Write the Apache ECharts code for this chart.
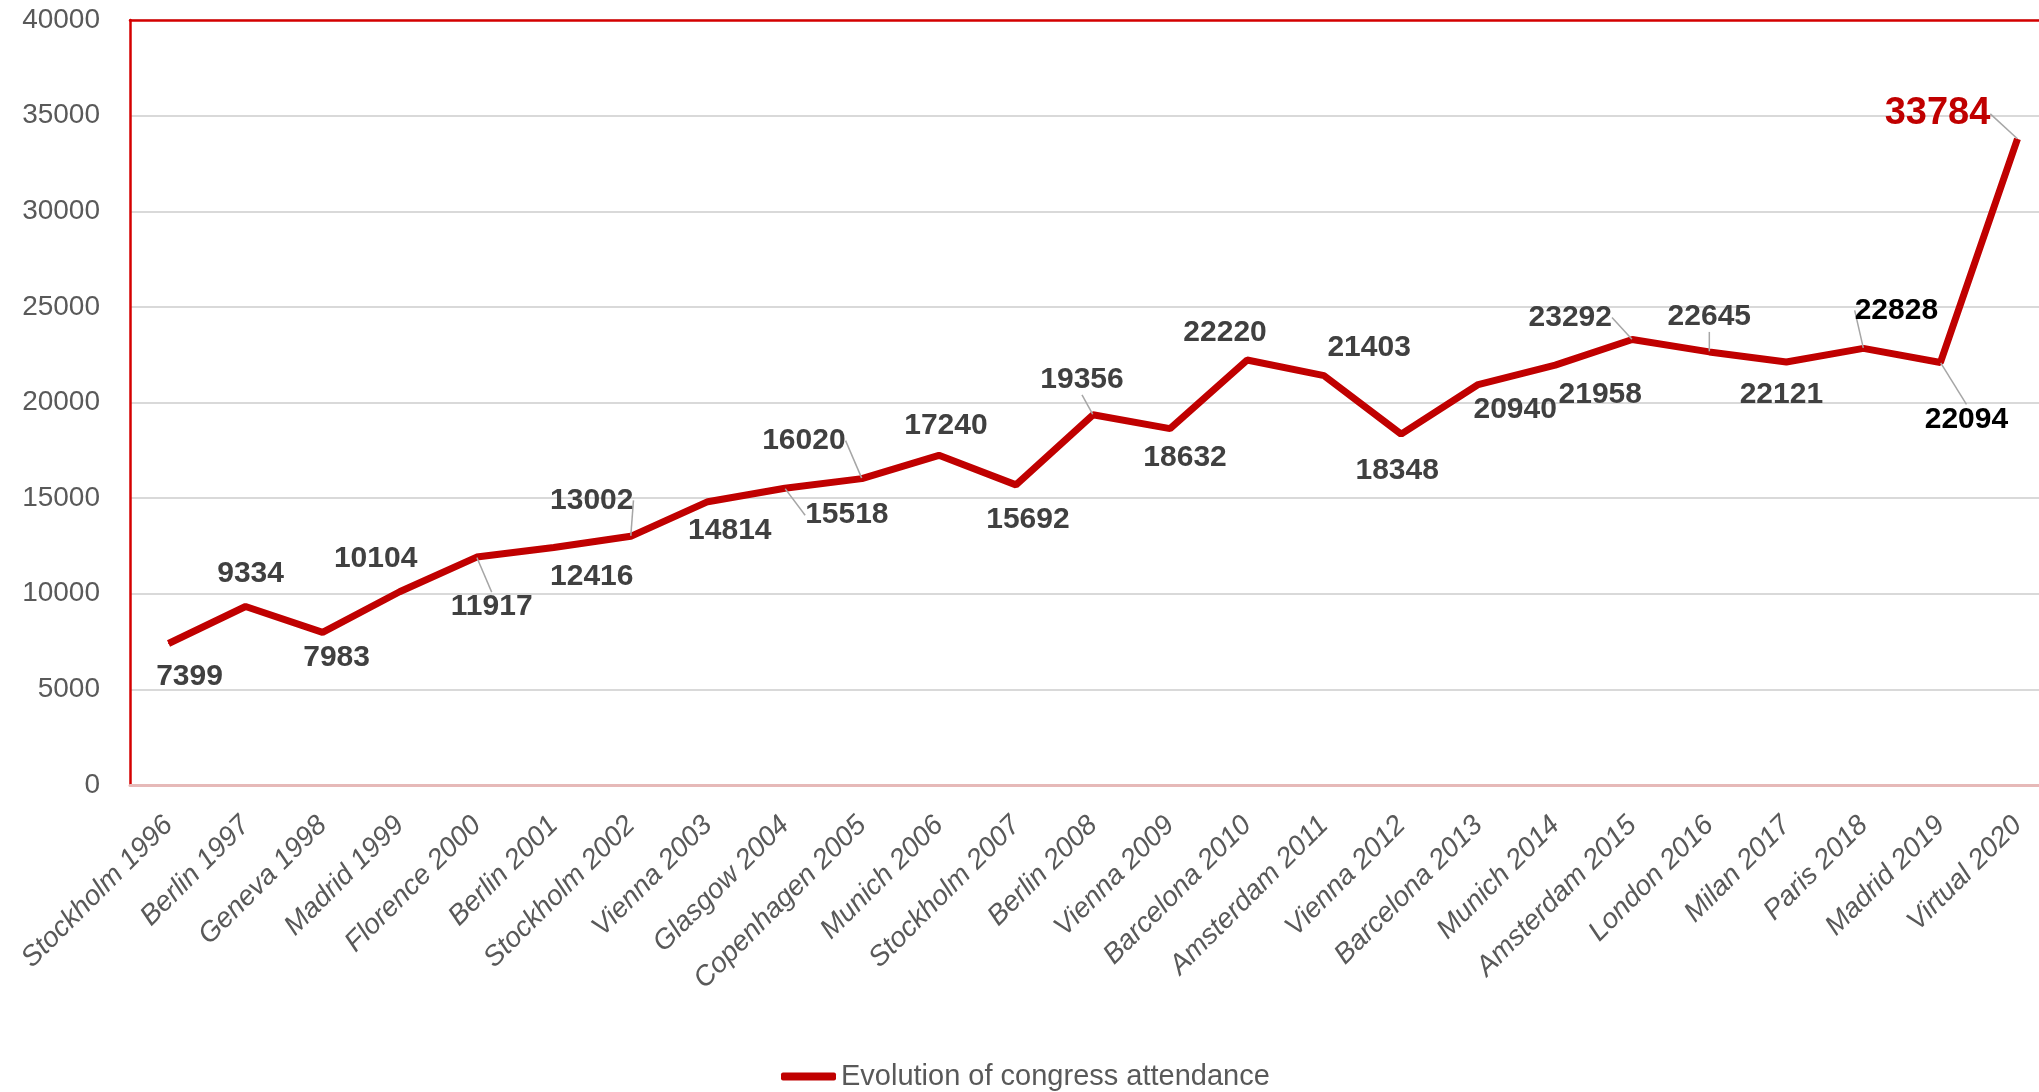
<!DOCTYPE html>
<html>
<head>
<meta charset="utf-8">
<script src="https://cdn.jsdelivr.net/npm/echarts@6/dist/echarts.min.js"></script>
<style>
html,body{margin:0;padding:0;background:#fff;overflow:hidden;width:2039px;height:1092px;}
#chart{width:2056px;height:1092px;}
</style>
</head>
<body>
<div id="chart"></div>
<script>
// ---- data ----
const categories = ["Stockholm 1996","Berlin 1997","Geneva 1998","Madrid 1999","Florence 2000","Berlin 2001","Stockholm 2002","Vienna 2003","Glasgow 2004","Copenhagen 2005","Munich 2006","Stockholm 2007","Berlin 2008","Vienna 2009","Barcelona 2010","Amsterdam 2011","Vienna 2012","Barcelona 2013","Munich 2014","Amsterdam 2015","London 2016","Milan 2017","Paris 2018","Madrid 2019","Virtual 2020"];
const attendance = [7399,9334,7983,10104,11917,12416,13002,14814,15518,16020,17240,15692,19356,18632,22220,21403,18348,20940,21958,23292,22645,22121,22828,22094,33784];
const yTicks = {min:0, max:40000, interval:5000};
const seriesName = "Evolution of congress attendance";

// ---- label layout (offsets of label centres from their points) ----
const labelDx = [21,5,14,-24,15,38,-39,22,62,-58,7,12,-11,15,-22,45,-4,37,45,-62,0,-5,33,26,-80];
const labelDy = [33,-33,25,-33,50,29,-36,29,27,-38,-30,35,-35,29,-27,-28,37,25,30,-22,-35,33,-38,57,-25];
const leaderIdx = [4,6,8,9,12,19,20,22,23,24];
const blackIdx = [22,23];
const highlightIdx = [24];

const FONT = "'Liberation Sans',Arial,sans-serif";

const seriesData = attendance.map((v,i)=>{
  const item = {value:v};
  if (leaderIdx.includes(i)) item.labelLine = {show:true};
  if (blackIdx.includes(i)) item.label = {color:'#000000'};
  if (highlightIdx.includes(i)) item.label = {color:'#C00000', fontSize:38};
  return item;
});

const chart = echarts.init(document.getElementById('chart'), null, {renderer:'canvas'});
chart.setOption({
  animation:false,
  backgroundColor:'#ffffff',
  grid:{left:130, top:20, right:0, bottom:307, containLabel:false},
  legend:{
    top:1057, left:776,
    icon:'roundRect', itemWidth:55, itemHeight:8, itemGap:6,
    textStyle:{color:'#595959', fontSize:29, fontFamily:FONT},
    data:[seriesName]
  },
  xAxis:[{
    type:'category', data:categories, boundaryGap:true,
    axisLine:{show:true, lineStyle:{color:'#E6B9B8', width:3}},
    axisTick:{show:false},
    axisLabel:{interval:0, rotate:45, margin:36, fontStyle:'italic', color:'#595959', fontSize:28, fontFamily:FONT}
  },{
    type:'category', data:categories, position:'top', boundaryGap:true,
    axisLine:{show:true, lineStyle:{color:'#D40000', width:2.5}},
    axisTick:{show:false}, axisLabel:{show:false}
  }],
  yAxis:{
    type:'value', min:yTicks.min, max:yTicks.max, interval:yTicks.interval,
    axisLine:{show:true, lineStyle:{color:'#D40000', width:2.5}},
    axisTick:{show:false},
    splitLine:{lineStyle:{color:'#D9D9D9', width:2}},
    axisLabel:{color:'#595959', fontSize:28, margin:30, fontFamily:FONT, formatter:(v)=>String(v)}
  },
  series:[{
    name:seriesName, type:'line', data:seriesData,
    symbol:'circle', symbolSize:1, showSymbol:true,
    itemStyle:{color:'#C00000'},
    lineStyle:{color:'#C00000', width:7},
    label:{show:true, position:'inside', fontSize:30, fontWeight:'bold', color:'#404040', fontFamily:FONT},
    labelLine:{show:false, lineStyle:{color:'#A6A6A6', width:1.5}},
    labelLayout:(p)=>({dx:labelDx[p.dataIndex], dy:labelDy[p.dataIndex]})
  }]
});
</script>
</body>
</html>
